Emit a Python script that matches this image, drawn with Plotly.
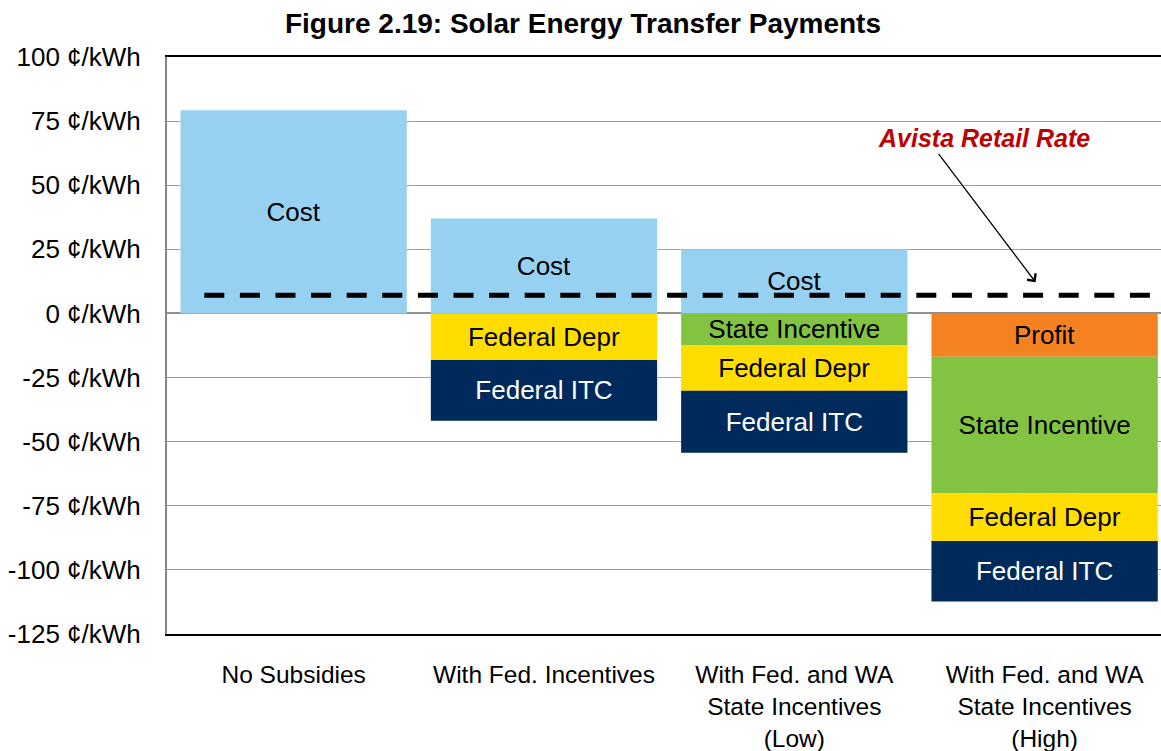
import plotly.graph_objects as go

categories = ["No Subsidies", "With Fed. Incentives",
              "With Fed. and WA<br>State Incentives<br>(Low)",
              "With Fed. and WA<br>State Incentives<br>(High)"]
cost = [79.2, 37.0, 25.0, None]
profit = [None, None, None, -16.9]
state_incentive = [None, None, -12.3, -53.2]
federal_depr = [None, -18.2, -17.8, -18.6]
federal_itc = [None, -23.6, -24.2, -23.6]
retail_rate = 7.1
ytick_vals = [100, 75, 50, 25, 0, -25, -50, -75, -100, -125]
ytick_text = [f"{v} ¢/kWh" for v in ytick_vals]

FONT = "Liberation Sans, Arial, sans-serif"
xs = list(range(len(categories)))

series = [
    ("Cost", cost, "#97D1F1", "black"),
    ("Profit", profit, "#F58220", "black"),
    ("State Incentive", state_incentive, "#82C341", "black"),
    ("Federal Depr", federal_depr, "#FFDD00", "black"),
    ("Federal ITC", federal_itc, "#002A5C", "white"),
]

fig = go.Figure()
for name, vals, col, tcol in series:
    fig.add_trace(go.Bar(
        x=xs, y=vals, name=name, marker=dict(color=col, line=dict(width=0)),
        text=[name if v is not None else "" for v in vals],
        textposition="inside", insidetextanchor="middle",
        textfont=dict(family=FONT, size=26, color=tcol),
        constraintext="none", showlegend=False, hoverinfo="skip",
    ))

fig.add_trace(go.Scatter(
    x=[-0.357, 3.43], y=[retail_rate, retail_rate], mode="lines",
    line=dict(color="black", width=5, dash="20px,15.6px"),
    showlegend=False, hoverinfo="skip",
))

fig.add_annotation(
    x=2.964, y=12.2, ax=2.572, ay=62.8, axref="x", ayref="y",
    xref="x", yref="y", text="", showarrow=True,
    arrowhead=4, arrowsize=1.6, arrowwidth=1.3, arrowcolor="black",
)
fig.add_annotation(
    x=2.756, y=68.3, xref="x", yref="y", text="<b><i>Avista Retail Rate</i></b>",
    showarrow=False, font=dict(family=FONT, size=25, color="#C00000"),
)

W, H = 1161, 751
fig.update_layout(
    width=W, height=H,
    margin=dict(l=167, r=0, t=57, b=117),
    paper_bgcolor="white", plot_bgcolor="white",
    barmode="relative", bargap=0.096,
    uniformtext=dict(minsize=26, mode="show"),
    title=dict(text="<b>Figure 2.19: Solar Energy Transfer Payments</b>",
               x=583 / W, xref="container", xanchor="center",
               y=1 - 23 / H, yref="container", yanchor="middle",
               font=dict(family=FONT, size=28, color="black")),
    font=dict(family=FONT, color="black"),
)
fig.update_xaxes(
    range=[-0.506, 3.465], tickvals=xs, ticktext=categories,
    showgrid=False, zeroline=False, showline=True, linecolor="black",
    linewidth=2, mirror=True, ticks="", ticklabelstandoff=18,
    automargin=False,
    tickfont=dict(family=FONT, size=24.5, color="black"),
)
fig.update_yaxes(
    range=[-125, 100], tickvals=ytick_vals, ticktext=ytick_text,
    showgrid=True, gridcolor="#A0A0A0", gridwidth=1.3,
    zeroline=True, zerolinecolor="#909090", zerolinewidth=2,
    showline=True, linecolor="#868686", linewidth=2,
    ticks="", ticklabelstandoff=19, automargin=False,
    tickfont=dict(family=FONT, size=26, color="black"),
)

fig.write_html(
    "out.html",
    config={"displayModeBar": False},
    post_script="document.body.style.margin='0';document.body.style.overflow='hidden';",
)
